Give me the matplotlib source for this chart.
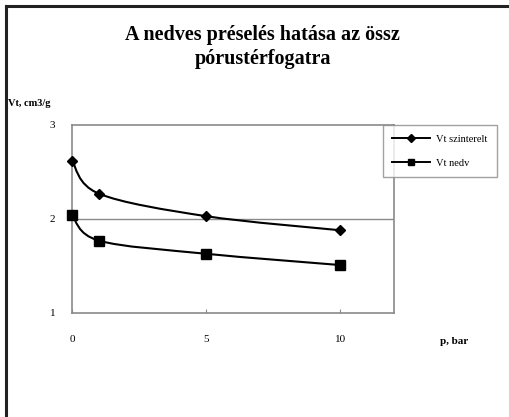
import numpy as np
import matplotlib
matplotlib.use("Agg")
import matplotlib.pyplot as plt
from matplotlib.path import Path
from matplotlib.patches import PathPatch
from matplotlib.lines import Line2D

# data
pressure = [0, 1, 5, 10]
vt_szinterelt = [2.62, 2.27, 2.03, 1.88]
vt_nedv = [2.04, 1.77, 1.63, 1.51]
labels = ["Vt szinterelt", "Vt nedv"]
title = "A nedves préselés hatása az össz\npórustérfogatra"

plt.rcParams['font.family'] = ['Liberation Serif', 'DejaVu Serif']


def smooth_path(xs, ys):
    # Excel-like smoothed line: Catmull-Rom segments as cubic Bezier curves
    xs = np.asarray(xs, float)
    ys = np.asarray(ys, float)
    pts = np.column_stack([xs, ys])
    verts = [pts[0]]
    codes = [Path.MOVETO]
    n = len(pts)
    for i in range(n - 1):
        p0 = pts[i - 1] if i > 0 else pts[i]
        p1 = pts[i]
        p2 = pts[i + 1]
        p3 = pts[i + 2] if i + 2 < n else pts[i + 1]
        c1 = p1 + (p2 - p0) / 6.0
        c2 = p2 - (p3 - p1) / 6.0
        verts += [c1, c2, p2]
        codes += [Path.CURVE4] * 3
    return Path(verts, codes)


fig = plt.figure(figsize=(5.1, 4.17), dpi=100)
ax = fig.add_axes([72 / 510, 1 - 313 / 417, (394 - 72) / 510, (313 - 125) / 417])

for ys, mk, ms in [(vt_szinterelt, 'D', 5.5), (vt_nedv, 's', 6.5)]:
    ax.add_patch(PathPatch(smooth_path(pressure, ys), fill=False, lw=1.5,
                           edgecolor='black', zorder=3))
    ax.plot(pressure, ys, linestyle='none', marker=mk, ms=ms, color='black',
            zorder=4, clip_on=False)

ax.set_xlim(0, 12)
ax.set_ylim(1, 3)
ax.set_xticks([0, 5, 10])
ax.set_yticks([1, 2, 3])
ax.axhline(2, color='#8a8a8a', lw=1, zorder=1)
for s in ax.spines.values():
    s.set_color('#8a8a8a')
    s.set_linewidth(1.2)
ax.tick_params(axis='x', direction='in', length=3, color='#8a8a8a', pad=16, labelsize=8)
ax.tick_params(axis='y', length=0, pad=12, labelsize=8)

fig.text(8 / 510, 1 - 103 / 417, "Vt, cm3/g", fontsize=7.5, fontweight='bold', va='center')
fig.text(440 / 510, 1 - 341 / 417, "p, bar", fontsize=8, fontweight='bold', va='center')
fig.text(0.515, 1 - 47 / 417, title, ha='center', va='center', fontsize=14.5,
         fontweight='bold', linespacing=1.25)

handles = [Line2D([], [], color='black', marker='D', ms=4.5, lw=1.4),
           Line2D([], [], color='black', marker='s', ms=5, lw=1.4)]
leg = fig.legend(handles, labels, loc='upper left', bbox_to_anchor=(383 / 510, 1 - 125 / 417),
                 fontsize=7.5, frameon=True, fancybox=False, handlelength=3.6,
                 handletextpad=0.6, borderpad=0.9, borderaxespad=0, labelspacing=1.4)
leg.get_frame().set_edgecolor('#8a8a8a')
leg.get_frame().set_linewidth(1.0)

# outer frame (left and top)
fig.add_artist(Line2D([6 / 510, 6 / 510], [0, 1 - 6 / 417], color='#222222', lw=2.2))
fig.add_artist(Line2D([6 / 510, 1], [1 - 6 / 417, 1 - 6 / 417], color='#222222', lw=2.2))

plt.savefig('out.png', dpi=100)
